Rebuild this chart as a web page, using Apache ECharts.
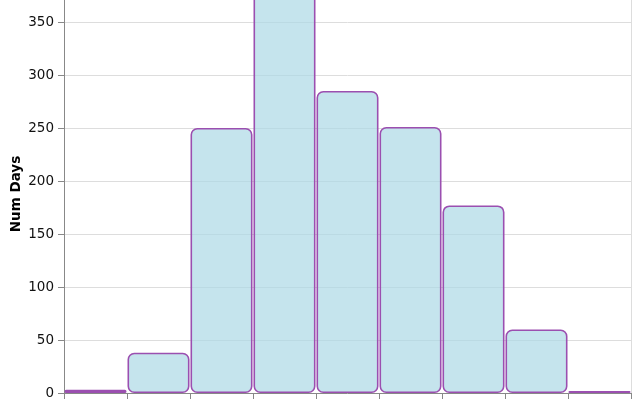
<!DOCTYPE html>
<html>
<head>
<meta charset="utf-8">
<script src="https://cdn.jsdelivr.net/npm/echarts@6/dist/echarts.min.js"></script>
<style>html,body{margin:0;padding:0;background:#fff}#c{width:640px;height:400px}</style>
</head>
<body>
<div id="c"></div>
<script>
const binLabels = ['-5', '0', '5', '10', '15', '20', '25', '30', '35'];
const numDays = [3, 38, 250, 395, 285, 251, 177, 60, 2];
const yTicks = { min: 0, max: 400, interval: 50 };
const yTitle = 'Num Days';

const chart = echarts.init(document.getElementById('c'), null, { renderer: 'canvas' });
chart.setOption({
  animation: false,
  grid: { left: 64, right: 9, top: -31, bottom: 7, containLabel: false, outerBoundsMode: 'none' },
  xAxis: {
    type: 'category',
    data: binLabels,
    boundaryGap: true,
    axisLine: { show: true, lineStyle: { color: '#888', width: 1 } },
    axisTick: { show: true, length: 6, alignWithLabel: false, lineStyle: { color: '#888' } },
    axisLabel: { show: true, color: '#000', fontSize: 13 },
    splitLine: { show: false }
  },
  yAxis: [{
    type: 'value',
    min: yTicks.min, max: yTicks.max, interval: yTicks.interval,
    axisLine: { show: true, lineStyle: { color: '#888', width: 1 } },
    axisTick: { show: true, length: 6, lineStyle: { color: '#888' } },
    axisLabel: { color: '#111', fontSize: 13.5, fontFamily: 'DejaVu Sans', margin: 10 },
    splitLine: { show: true, lineStyle: { color: '#ddd', width: 1 } }
  }, {
    type: 'value',
    position: 'right',
    min: yTicks.min, max: yTicks.max, interval: yTicks.interval,
    axisLine: { show: true, lineStyle: { color: '#ddd', width: 1 } },
    axisTick: { show: false },
    axisLabel: { show: false },
    splitLine: { show: false }
  }],
  graphic: [{
    type: 'text',
    x: 16, y: 194,
    rotation: Math.PI / 2,
    style: {
      text: yTitle,
      font: 'bold 13.5px "DejaVu Sans"',
      fill: '#000',
      align: 'center',
      verticalAlign: 'middle'
    }
  }],
  series: [{
    type: 'bar',
    data: numDays,
    barWidth: 62,
    itemStyle: {
      color: 'rgba(173,216,230,0.7)',
      borderColor: '#9b4fb0',
      borderWidth: 1.6,
      borderRadius: 6
    }
  }]
});
</script>
</body>
</html>
